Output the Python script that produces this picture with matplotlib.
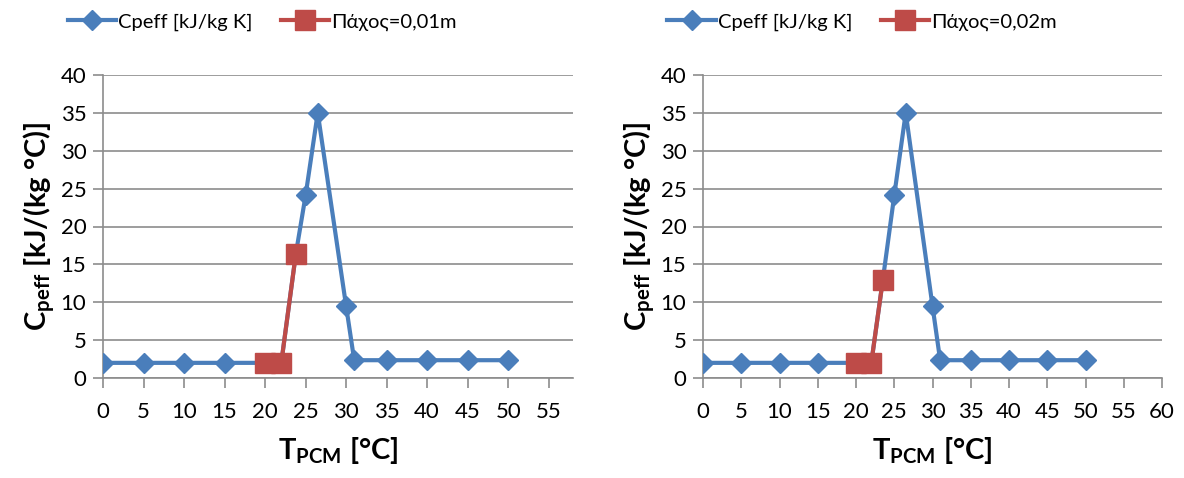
import matplotlib.pyplot as plt

plt.rcParams["font.family"] = ["Lato", "DejaVu Sans"]
plt.rcParams["mathtext.fontset"] = "custom"
plt.rcParams["mathtext.rm"] = "Lato"
plt.rcParams["mathtext.bf"] = "Lato:bold"

# blue series (Cpeff), left and right panels
t_cp_left = [0, 5, 10, 15, 20, 22, 23.8, 25, 26.5, 30, 31, 35, 40, 45, 50]
cp_left = [2.0, 2.0, 2.0, 2.0, 2.0, 2.0, 16.4, 24.1, 35.0, 9.5, 2.35, 2.35, 2.35, 2.35, 2.35]
t_cp_right = [0, 5, 10, 15, 20, 22, 23.5, 25, 26.5, 30, 31, 35, 40, 45, 50]
cp_right = [2.0, 2.0, 2.0, 2.0, 2.0, 2.0, 12.9, 24.1, 35.0, 9.5, 2.35, 2.35, 2.35, 2.35, 2.35]

# red series (thickness)
t_th_left = [20, 22, 23.8]
th_left = [2.0, 2.0, 16.4]
t_th_right = [20, 22, 23.5]
th_right = [2.0, 2.0, 12.9]

labels_th = ["Πάχος=0,01m", "Πάχος=0,02m"]
xmax = [58, 60]

blue = "#4A7EBB"
red = "#BE4B48"
grid = "#8C8C8C"

fig = plt.figure(figsize=(11.84, 4.78), dpi=100)
W, H = 1184, 478
boxes = [(103, 573), (703, 1162)]
top, bot = 75, 378

panels = [(t_cp_left, cp_left, t_th_left, th_left),
          (t_cp_right, cp_right, t_th_right, th_right)]

for i, (x0, x1) in enumerate(boxes):
    ax = fig.add_axes([x0 / W, 1 - bot / H, (x1 - x0) / W, (bot - top) / H])
    tc, cp, tt, th = panels[i]
    l1, = ax.plot(tc, cp, color=blue, lw=3, marker="D", ms=10.5, zorder=3)
    l2, = ax.plot(tt, th, color=red, lw=3, marker="s", ms=14, zorder=4)
    ax.set_xlim(0, xmax[i])
    ax.set_ylim(0, 40)
    ax.set_xticks(range(0, xmax[i] + 1, 5))
    ax.set_yticks(range(0, 41, 5))
    ax.grid(axis="y", color=grid, lw=1.2)
    ax.set_axisbelow(True)
    for s in ["top", "right"]:
        ax.spines[s].set_visible(False)
    for s in ["left", "bottom"]:
        ax.spines[s].set_color(grid)
        ax.spines[s].set_linewidth(1.2)
    ax.tick_params(axis="both", colors=grid, labelcolor="black", labelsize=16,
                   length=7, width=1.2, direction="out")
    ax.tick_params(axis="x", pad=10)
    ax.tick_params(axis="y", pad=5)
    ax.set_xlabel(r"T$_{\mathbf{PCM}}$ [°C]", fontsize=21, fontweight="bold", labelpad=10)
    ax.set_ylabel(r"C$_{\mathbf{peff}}$ [kJ/(kg °C)]", fontsize=21, fontweight="bold", labelpad=2)
    fig.legend([l1, l2], ["Cpeff [kJ/kg K]", labels_th[i]], loc="center",
               bbox_to_anchor=((x0 + 159) / W, 1 - 22 / H), ncol=2, frameon=False,
               fontsize=14.5, handlelength=2.4, columnspacing=1.4, handletextpad=0.1)

fig.savefig("out.png", dpi=100)
